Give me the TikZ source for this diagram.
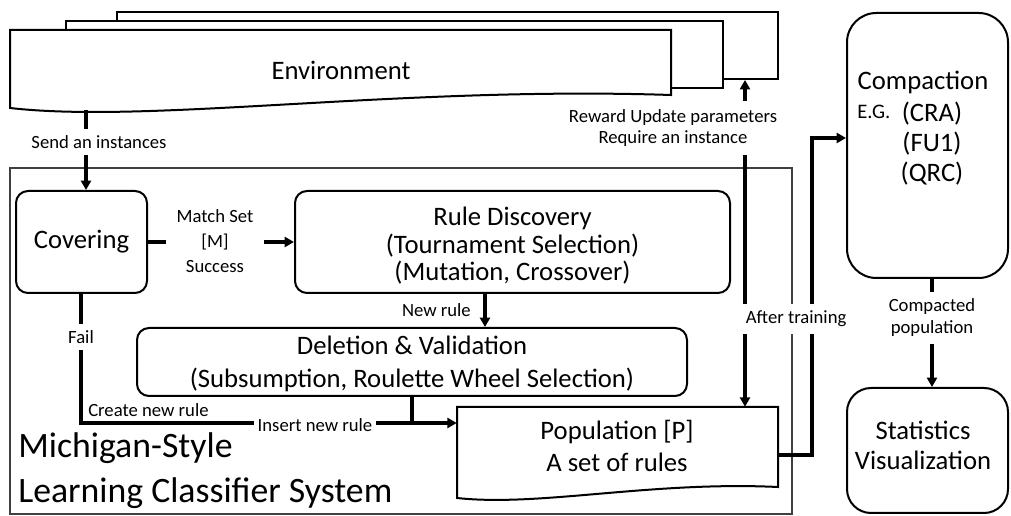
\documentclass[tikz,border=0pt]{standalone}
\usepackage{fontspec}
\setmainfont{Carlito}
\usetikzlibrary{arrows.meta}
\begin{document}
\begin{tikzpicture}[x=0.75pt,y=-0.75pt,
  box/.style={draw,line width=1.5pt,rounded corners=9pt,inner sep=0pt},
  envbox/.style={draw,line width=1.5pt,fill=white,inner sep=0pt},
  conn/.style={line width=2.3pt},
  tip/.tip={Triangle[length=7pt,width=7.5pt]},
  arr/.style={conn,-tip},
  lbl/.style={font=\fontsize{14}{19}\selectfont,align=center,inner sep=3pt},
  big/.style={font=\fontsize{20}{24}\selectfont,align=center,inner sep=0pt},
  huge/.style={anchor=west,inner sep=0pt,font=\fontsize{26.8}{27}\selectfont},
]
\useasboundingbox (0,0) rectangle (1011,516);

% Environment stack
\node[envbox,minimum width=495.75pt,minimum height=50.25pt] (envb) at (447.5,45.5) {};
\node[envbox,minimum width=492.75pt,minimum height=50.25pt] (envm) at (394,54.5) {};
\draw[line width=1.5pt,fill=white] (10,30) -- (671,30) -- (671,95)
  .. controls (400,86) and (150,124) .. (10,108) -- cycle;
\node[big] (env) at (341,70) {Environment};

% LCS frame
\draw[line width=0.8pt,black!75] (10,168) rectangle (792,514);
\node[huge] (mich1) at (18,448) {Michigan-Style};
\node[huge] (mich2) at (18,493) {Learning Classifier System};

% boxes
\node[box,big,minimum width=98.25pt,minimum height=76.5pt] (cov) at (81.5,242) {Covering};
\node[box,minimum width=326.25pt,minimum height=76.5pt] (rd) at (512.5,242) {};
\node[font=\fontsize{20}{20.6}\selectfont,align=center,inner sep=0pt] (rdtxt) at (512.5,246) {Rule Discovery\\(Tournament Selection)\\(Mutation, Crossover)};
\node[box,minimum width=412.5pt,minimum height=51pt] (del) at (412,362) {};
\node[font=\fontsize{20}{24.75}\selectfont,align=center,inner sep=0pt] (deltxt) at (412,364) {Deletion \& Validation\\(Subsumption, Roulette Wheel Selection)};

% population
\draw[line width=1.5pt,fill=white] (457,407) -- (778,407) -- (778,487)
  .. controls (650,481) and (540,507) .. (457,498) -- cycle;
\node[minimum width=240.75pt,minimum height=68.25pt,inner sep=0pt] (pop) at (617.5,452.5) {};
\node[font=\fontsize{20}{24}\selectfont,align=center,inner sep=0pt] (poptxt) at (617,446) {Population [P]\\A set of rules};

% compaction & statistics
\node[box,rounded corners=22pt,minimum width=120.75pt,minimum height=198.75pt] (comp) at (927.5,145.5) {};
\node[big] (comptxt) at (923,82) {Compaction};
\node[big] (cra) at (932,114) {(CRA)};
\node[big] (fu1) at (932,144) {(FU1)};
\node[big] (qrc) at (932,174) {(QRC)};
\node[anchor=west,inner sep=0pt,font=\fontsize{15.5}{18}\selectfont] (eg) at (857,112) {E.G.};
\node[box,rounded corners=18pt,minimum width=120.75pt,minimum height=93.75pt] (stat) at (927.5,450.5) {};
\node[font=\fontsize{20}{22.5}\selectfont,align=center,inner sep=0pt] (stattxt) at (923,445) {Statistics\\Visualization};

% helper coordinates
\coordinate (sendx) at (86,110);
\coordinate (nrx) at (485,0);
\coordinate (failx) at (81,0);
\coordinate (iny) at (0,423);
\coordinate (rx) at (745,0);
\coordinate (cx) at (812,0);
\coordinate (py) at (0,455);
\coordinate (cy) at (0,138);
\coordinate (sx) at (932,0);

% connectors
\draw[arr] (sendx) -- (sendx |- cov.north);
\draw[arr] (cov.east) -- (rd.west);
\draw[arr] (rd.south -| nrx) -- (del.north -| nrx);
\draw[arr] (cov.south -| failx) -- (failx |- iny) -- (pop.west |- iny);
\draw[conn] (del.south) -- (del.south |- iny);
\draw[conn,tip-tip] (envb.south -| rx) -- (pop.north -| rx);
\draw[arr] (pop.east |- py) -- (cx |- py) -- (cx |- cy) -- (comp.west |- cy);
\draw[arr] (comp.south -| sx) -- (stat.north -| sx);

% labels
\node[lbl,fill=white,inner ysep=5pt] (sendl) at (99,142) {Send an instances};
\node[lbl,fill=white,inner xsep=8pt,inner ysep=2pt] (ml) at (215,241) {Match Set\\{[M]}\\Success};
\node[lbl,anchor=east] (nrl) at (475,310) {New rule};
\node[lbl,fill=white,inner ysep=5pt] (faill) at (81,337) {Fail};
\node[lbl,anchor=west,inner sep=0pt] (cnr) at (88,410) {Create new rule};
\node[lbl,fill=white,inner ysep=1pt] (inr) at (315,425) {Insert new rule};
\node[lbl,fill=white,font=\fontsize{14}{16}\selectfont,inner ysep=6pt] (rew) at (673,128) {Reward Update parameters\\Require an instance};
\node[lbl,fill=white,anchor=west,inner sep=2pt,inner ysep=5pt] (atr) at (743,319) {After training};
\node[lbl,fill=white,font=\fontsize{14}{16.5}\selectfont,inner ysep=5pt] (cpl) at (932,318) {Compacted\\population};
\end{tikzpicture}
\end{document}
